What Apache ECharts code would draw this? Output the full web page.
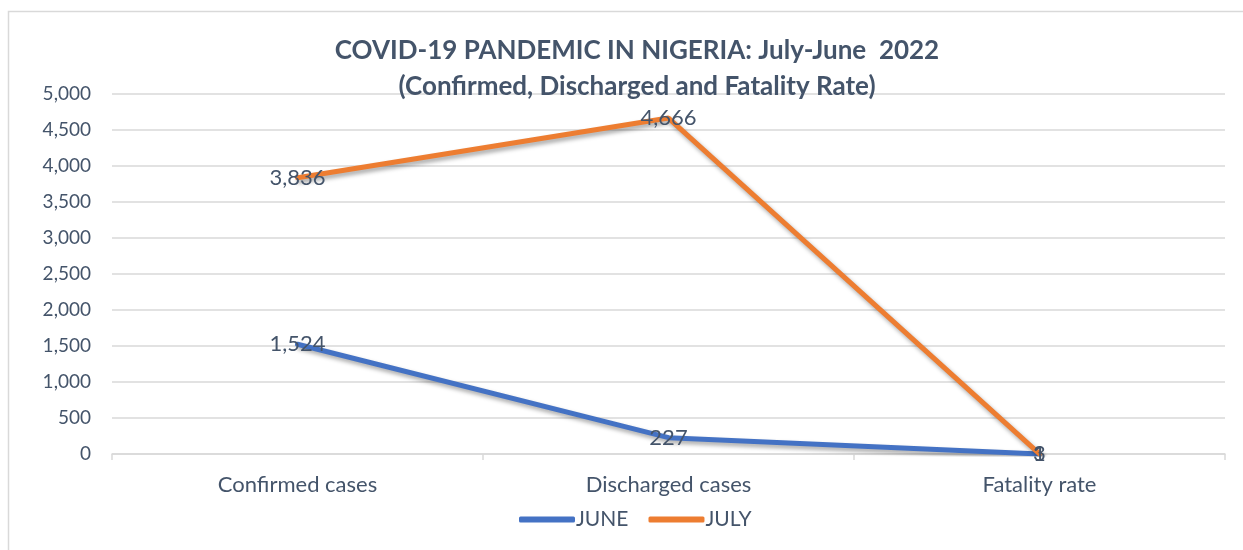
<!DOCTYPE html>
<html><head><meta charset="utf-8">
<script src="https://cdn.jsdelivr.net/npm/echarts@6/dist/echarts.min.js"></script>
<style>html,body{margin:0;padding:0;background:#fff}#c{width:1243px;height:550px}</style>
</head><body><div id="c"></div>
<script>
const categories = ["Confirmed cases", "Discharged cases", "Fatality rate"];
const juneValues = [1524, 227, 1];
const julyValues = [3836, 4666, 3];
const seriesNames = ["JUNE", "JULY"];
const titleLines = ["COVID-19 PANDEMIC IN NIGERIA: July-June  2022", "(Confirmed, Discharged and Fatality Rate)"];

const FONT = "Lato, 'Open Sans', sans-serif";
const TXT = "#44546A";
const chart = echarts.init(document.getElementById('c'), null, {renderer: 'canvas'});
const mkSeries = (name, data, color) => ({
  name, type: 'line', data, symbol: 'circle', symbolSize: 1, showSymbol: true,
  lineStyle: {width: 5, color, cap: 'round', shadowBlur: 4, shadowColor: 'rgba(0,0,0,0.35)', shadowOffsetX: 2, shadowOffsetY: 3},
  itemStyle: {color},
  label: {show: true, position: 'inside', formatter: p => p.value.toLocaleString('en-US'), color: TXT, fontSize: 22, fontFamily: FONT},
  labelLayout: {hideOverlap: false},
  emphasis: {disabled: true}
});
chart.setOption({
  animation: false,
  backgroundColor: '#fff',
  graphic: [{type: 'rect', shape: {x: 8.5, y: 11.5, width: 1250, height: 560}, style: {fill: 'none', stroke: '#D9D9D9', lineWidth: 1.5}, z: -1}],
  title: {
    text: titleLines.join('\n'), left: 632, textAlign: 'center', top: 28, padding: 5,
    textStyle: {color: TXT, fontSize: 26, fontWeight: 'bold', fontFamily: FONT, lineHeight: 36}
  },
  legend: {
    data: seriesNames, bottom: 20, left: 519, padding: 0, itemWidth: 56, itemHeight: 6, itemGap: 20,
    icon: 'roundRect',
    textStyle: {color: TXT, fontSize: 21, fontFamily: FONT, padding: [0, 0, 0, -4]}
  },
  grid: {left: 112, right: 18, top: 94, bottom: 96, containLabel: false},
  xAxis: {
    type: 'category', data: categories, boundaryGap: true,
    axisLine: {lineStyle: {color: '#D9D9D9', width: 1.5}},
    axisTick: {show: true, alignWithLabel: false, length: 6, lineStyle: {color: '#D9D9D9', width: 1.5}},
    axisLabel: {color: TXT, fontSize: 22, fontFamily: FONT, margin: 20}
  },
  yAxis: {
    type: 'value', min: 0, max: 5000, interval: 500,
    axisLine: {show: false}, axisTick: {show: false},
    splitLine: {lineStyle: {color: '#D9D9D9', width: 1.5}},
    axisLabel: {color: TXT, fontSize: 19, fontFamily: FONT, margin: 21, formatter: v => v.toLocaleString('en-US')}
  },
  series: [mkSeries(seriesNames[0], juneValues, '#4472C4'), mkSeries(seriesNames[1], julyValues, '#ED7D31')]
});
</script></body></html>
